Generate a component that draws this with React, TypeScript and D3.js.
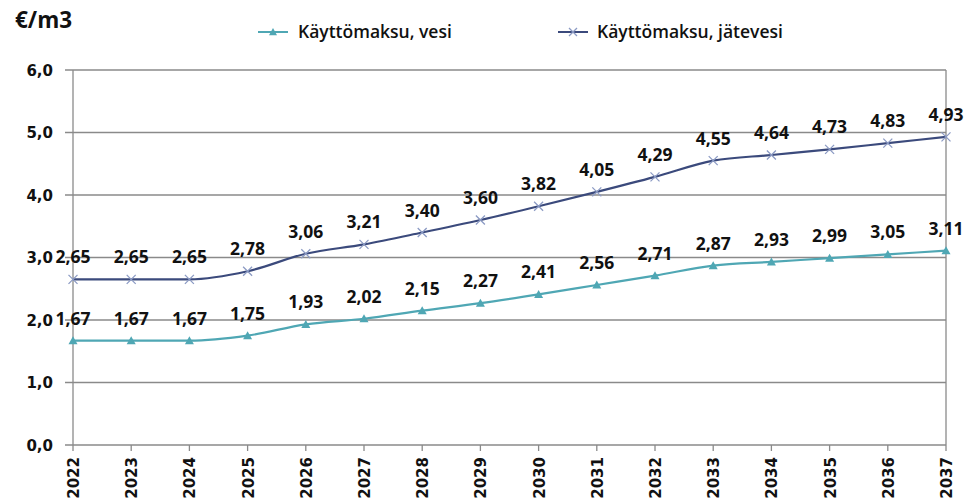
import React from "react";
import * as d3 from "d3";

const years = ["2022","2023","2024","2025","2026","2027","2028","2029","2030","2031","2032","2033","2034","2035","2036","2037"];
const vesi = [1.67,1.67,1.67,1.75,1.93,2.02,2.15,2.27,2.41,2.56,2.71,2.87,2.93,2.99,3.05,3.11];
const jatevesi = [2.65,2.65,2.65,2.78,3.06,3.21,3.40,3.60,3.82,4.05,4.29,4.55,4.64,4.73,4.83,4.93];
const yTicks = [0,1,2,3,4,5,6];
const seriesNames = ["Käyttömaksu, vesi", "Käyttömaksu, jätevesi"];

const W = 968, H = 503;
const left = 73, right = 946, top = 70, bottom = 445;
const waterColor = "#4fa7b4";
const wasteColor = "#3b4a7c";
const markerX = "#8c9bc4";

export default function App() {
  const x = d3.scalePoint<string>().domain(years).range([left, right]);
  const y = d3.scaleLinear().domain([0, 6]).range([bottom, top]);
  const line = d3.line<number>().x((_, i) => x(years[i])!).y(d => y(d)).curve(d3.curveMonotoneX);
  const fmt = (v: number) => v.toFixed(2).replace(".", ",");
  const labelFont = "'Open Sans', 'Liberation Sans', sans-serif";
  const axisFont = "'DejaVu Sans', Verdana, sans-serif";
  const tri = (cx: number, cy: number, s: number) =>
    `M${cx},${cy - s}L${cx + s},${cy + s * 0.8}L${cx - s},${cy + s * 0.8}Z`;
  const cross = (cx: number, cy: number, s: number) =>
    `M${cx - s},${cy - s}L${cx + s},${cy + s}M${cx - s},${cy + s}L${cx + s},${cy - s}`;

  return (
    <svg width={W} height={H} style={{ position: "absolute", left: 0, top: 0, background: "#fff" }}>
      <text x={15} y={28} fontFamily={labelFont} fontWeight="bold" fontSize={22.5} fill="#111">€/m3</text>
      {/* legend */}
      <g>
        <line x1={258} x2={288} y1={32} y2={32} stroke={waterColor} strokeWidth={2} />
        <path d={tri(273, 32, 4)} fill={waterColor} />
        <text x={298} y={38} fontFamily={labelFont} fontWeight={600} fontSize={17.5} fill="#111">{seriesNames[0]}</text>
        <line x1={558} x2={588} y1={32} y2={32} stroke={wasteColor} strokeWidth={2} />
        <path d={cross(573, 32, 4)} stroke={markerX} strokeWidth={1.3} fill="none" />
        <text x={597} y={38} fontFamily={labelFont} fontWeight={600} fontSize={17.5} fill="#111">{seriesNames[1]}</text>
      </g>
      {/* grid */}
      {yTicks.map(t => (
        <g key={t}>
          <line x1={left - 8} x2={right} y1={y(t)} y2={y(t)} stroke="#8a8a8a" strokeWidth={1.3} />
          <text x={53} y={y(t) + 5.5} textAnchor="end" fontFamily={axisFont} fontWeight="bold" fontSize={15} fill="#111">
            {t.toFixed(1).replace(".", ",")}
          </text>
        </g>
      ))}
      <line x1={left} x2={left} y1={top} y2={bottom} stroke="#8a8a8a" strokeWidth={1.3} />
      <line x1={right} x2={right} y1={top} y2={bottom} stroke="#8a8a8a" strokeWidth={1.3} />
      {years.map(yr => (
        <g key={yr}>
          <line x1={x(yr)!} x2={x(yr)!} y1={bottom} y2={bottom + 6} stroke="#8a8a8a" strokeWidth={1.3} />
          <text transform={`translate(${x(yr)! + 6},${bottom + 12}) rotate(-90)`} textAnchor="end" fontFamily={axisFont} fontWeight="bold" fontSize={15} fill="#111">{yr}</text>
        </g>
      ))}
      {/* lines */}
      <path d={line(jatevesi)!} fill="none" stroke={wasteColor} strokeWidth={2.2} />
      <path d={line(vesi)!} fill="none" stroke={waterColor} strokeWidth={2.2} />
      {jatevesi.map((v, i) => (
        <path key={"c" + i} d={cross(x(years[i])!, y(v), 4.5)} stroke={markerX} strokeWidth={1.3} fill="none" />
      ))}
      {vesi.map((v, i) => (
        <path key={"t" + i} d={tri(x(years[i])!, y(v), 4.5)} fill={waterColor} />
      ))}
      {jatevesi.map((v, i) => (
        <text key={"lj" + i} x={x(years[i])!} y={y(v) - 16} textAnchor="middle" fontFamily={labelFont} fontWeight="bold" fontSize={17.5} fill="#111">{fmt(v)}</text>
      ))}
      {vesi.map((v, i) => (
        <text key={"lv" + i} x={x(years[i])!} y={y(v) - 16} textAnchor="middle" fontFamily={labelFont} fontWeight="bold" fontSize={17.5} fill="#111">{fmt(v)}</text>
      ))}
    </svg>
  );
}
